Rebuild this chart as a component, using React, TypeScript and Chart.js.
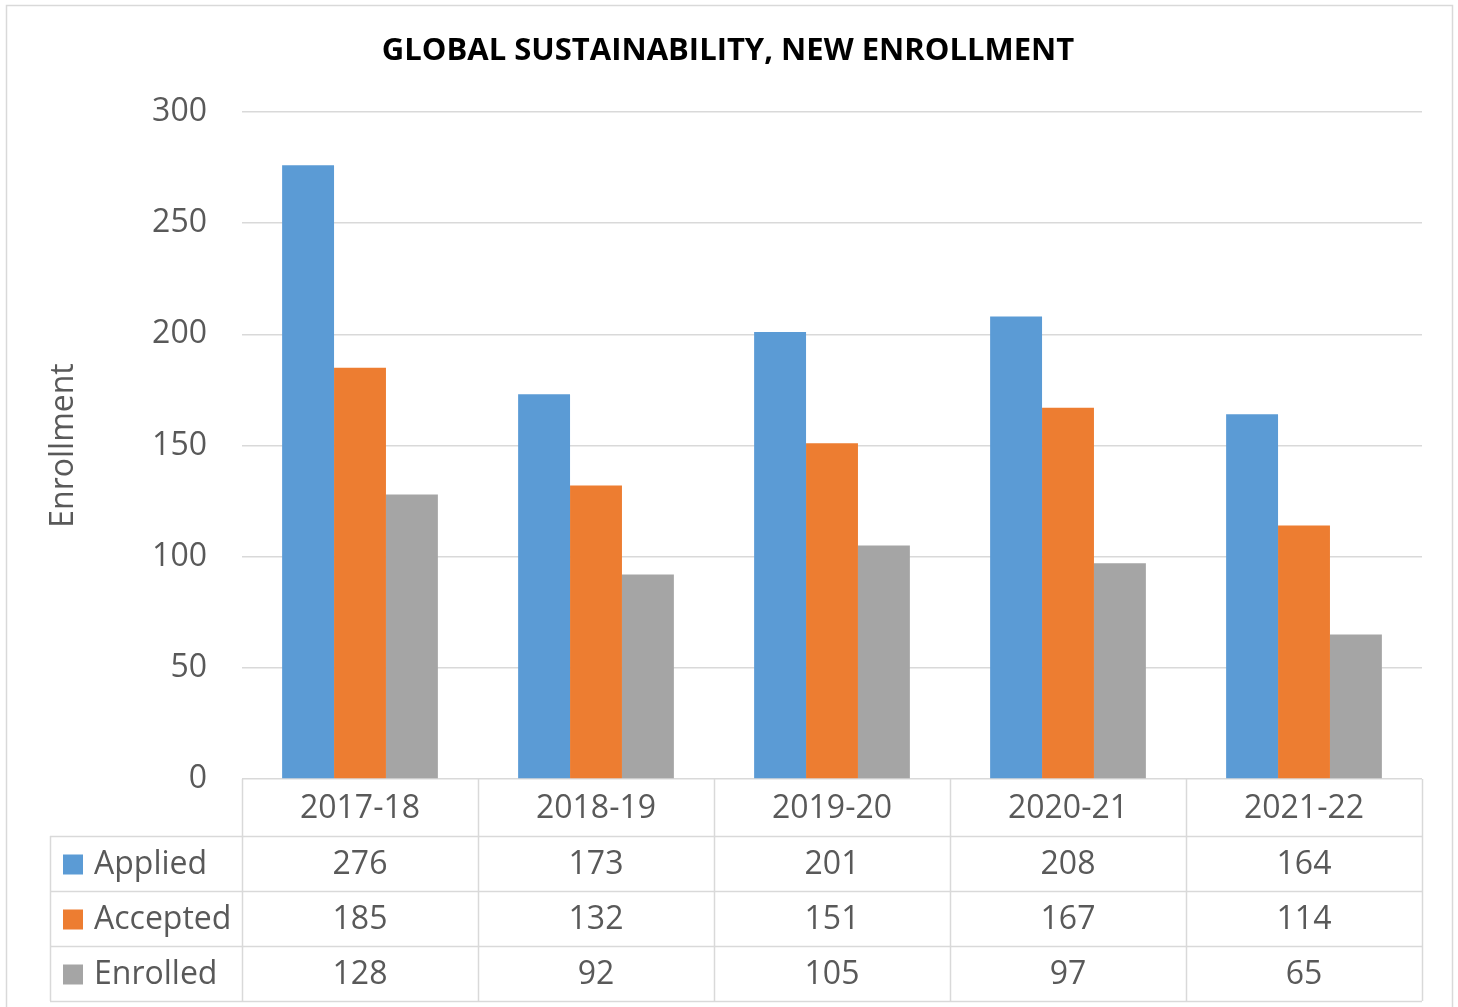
import React, { useEffect, useRef } from "react";
import { Chart, registerables } from "chart.js";

Chart.register(...registerables);

const TITLE = "GLOBAL SUSTAINABILITY, NEW ENROLLMENT";
const Y_TITLE = "Enrollment";
const categories = ["2017-18", "2018-19", "2019-20", "2020-21", "2021-22"];
const seriesNames = ["Applied", "Accepted", "Enrolled"];
const applied = [276, 173, 201, 208, 164];
const accepted = [185, 132, 151, 167, 114];
const enrolled = [128, 92, 105, 97, 65];
const seriesColors = ["#5B9BD5", "#ED7D31", "#A5A5A5"];
const Y_MIN = 0;
const Y_MAX = 300;
const Y_STEP = 50;

const FONT = "'Open Sans', 'Noto Sans', sans-serif";
const TEXT = "#595959";
const LINE = "#D9D9D9";

const tablePlugin = {
  id: "excelTable",
  afterDraw(chart: any) {
    const ctx = chart.ctx as CanvasRenderingContext2D;
    const area = chart.chartArea;
    const H = chart.height;
    const xs = chart.scales.x;
    ctx.save();
    // outer border
    ctx.strokeStyle = LINE;
    ctx.lineWidth = 1.5;
    ctx.strokeRect(6.5, 5.5, 1446, H + 20);
    // title
    ctx.fillStyle = "#000";
    ctx.font = `bold 31px ${FONT}`;
    ctx.textAlign = "center";
    ctx.textBaseline = "middle";
    ctx.fillText(TITLE, 728, 51);
    // y title
    ctx.save();
    ctx.translate(64, (area.top + area.bottom) / 2);
    ctx.rotate(-Math.PI / 2);
    ctx.fillStyle = TEXT;
    ctx.font = `32px ${FONT}`;
    ctx.fillText(Y_TITLE, 0, 0);
    ctx.restore();

    // table
    const n = categories.length;
    const colW = (area.right - area.left) / n;
    const headerTop = area.bottom;
    const rowH = 55;
    const headerBottom = headerTop + 57;
    const tableBottom = headerBottom + rowH * seriesNames.length;
    const legendLeft = 50;
    ctx.strokeStyle = LINE;
    ctx.lineWidth = 1.5;
    ctx.beginPath();
    for (let i = 0; i <= n; i++) {
      const x = Math.round(area.left + i * colW) + 0.5;
      ctx.moveTo(x, headerTop);
      ctx.lineTo(x, tableBottom);
    }
    ctx.moveTo(legendLeft + 0.5, headerBottom);
    ctx.lineTo(legendLeft + 0.5, tableBottom);
    for (let r = 0; r <= seriesNames.length; r++) {
      const y = Math.round(headerBottom + r * rowH) + 0.5;
      ctx.moveTo(legendLeft, y);
      ctx.lineTo(area.right, y);
    }
    ctx.stroke();

    ctx.fillStyle = TEXT;
    ctx.font = `32px ${FONT}`;
    ctx.textAlign = "center";
    ctx.textBaseline = "middle";
    categories.forEach((c, i) => {
      ctx.fillText(c, xs.getPixelForValue(i), (headerTop + headerBottom) / 2 + 1);
    });
    const data = [applied, accepted, enrolled];
    seriesNames.forEach((s, r) => {
      const cy = headerBottom + r * rowH + rowH / 2 + 1;
      ctx.fillStyle = seriesColors[r];
      ctx.fillRect(63, cy - 10, 20, 20);
      ctx.fillStyle = TEXT;
      ctx.textAlign = "left";
      ctx.fillText(s, 94, cy);
      ctx.textAlign = "center";
      data[r].forEach((v, i) => {
        ctx.fillText(String(v), xs.getPixelForValue(i), cy);
      });
    });
    ctx.restore();
  },
};

export default function App() {
  const ref = useRef<HTMLCanvasElement | null>(null);
  useEffect(() => {
    document.body.style.margin = "0";
    const canvas = ref.current!;
    const chart = new Chart(canvas, {
      type: "bar",
      data: {
        labels: categories,
        datasets: [
          { label: seriesNames[0], data: applied, backgroundColor: seriesColors[0] },
          { label: seriesNames[1], data: accepted, backgroundColor: seriesColors[1] },
          { label: seriesNames[2], data: enrolled, backgroundColor: seriesColors[2] },
        ],
      },
      options: {
        animation: false,
        responsive: false,
        maintainAspectRatio: false,
        layout: { padding: { left: 0, top: 112, right: 36, bottom: 228 } },
        datasets: { bar: { categoryPercentage: 0.66, barPercentage: 1.0 } } as any,
        plugins: {
          legend: { display: false },
          title: { display: false },
          tooltip: { enabled: false },
        },
        scales: {
          x: { display: false },
          y: {
            min: Y_MIN,
            max: Y_MAX,
            afterFit(scale: any) {
              scale.width = 242;
            },
            border: { display: false },
            grid: { color: LINE, lineWidth: 1.5, drawTicks: false },
            ticks: {
              stepSize: Y_STEP,
              padding: 35,
              color: TEXT,
              font: { family: FONT, size: 32 },
            },
          },
        },
      },
      plugins: [tablePlugin],
    });
    return () => chart.destroy();
  }, []);
  return (
    <canvas
      ref={ref}
      width={1458}
      height={1007}
      style={{ display: "block", width: 1458, height: 1007 }}
    />
  );
}
